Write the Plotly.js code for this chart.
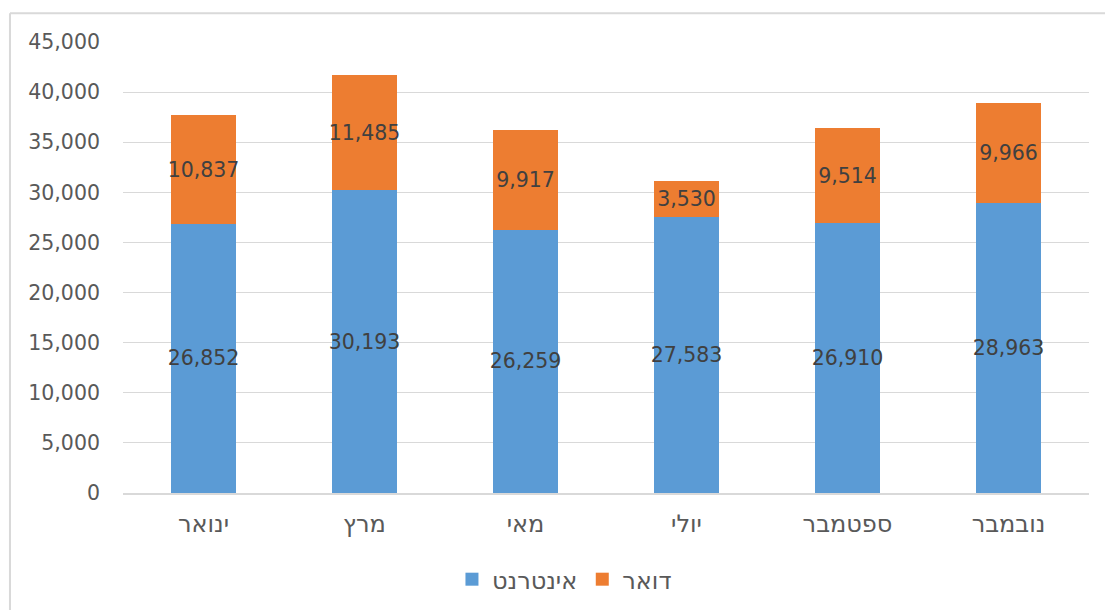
<!DOCTYPE html>
<html>
<head>
<meta charset="utf-8">
<script src="https://cdn.plot.ly/plotly-3.0.1.min.js"></script>
<style>html,body{margin:0;padding:0;background:#fff;}#chart{width:1105px;height:610px;}</style>
</head>
<body>
<div id="chart"></div>
<script>
const months = ["ינואר", "מרץ", "מאי", "יולי", "ספטמבר", "נובמבר"];
const internet = [26852, 30193, 26259, 27583, 26910, 28963];
const mail = [10837, 11485, 9917, 3530, 9514, 9966];
const seriesNames = ["אינטרנט", "דואר"];
const seriesColors = ["#5B9BD5", "#ED7D31"];
const yTicks = [0, 5000, 10000, 15000, 20000, 25000, 30000, 35000, 40000, 45000];

const FONT = "DejaVu Sans, Verdana, sans-serif";
const fmt = v => v.toLocaleString("en-US");

function barTrace(name, vals, color) {
  return {
    type: "bar", name: name, x: months, y: vals, showlegend: false,
    marker: {color: color, line: {width: 0}},
    text: vals.map(fmt), textposition: "inside", insidetextanchor: "middle",
    textangle: 0, constraintext: "none",
    textfont: {family: FONT, size: 20.5, color: "#404040"},
    hoverinfo: "skip"
  };
}
function legendTrace(name, color) {
  return {
    type: "scatter", mode: "markers", name: name, x: [null], y: [null],
    marker: {symbol: "square", size: 13, color: color}, showlegend: true, hoverinfo: "skip"
  };
}

const data = [
  barTrace(seriesNames[0], internet, seriesColors[0]),
  barTrace(seriesNames[1], mail, seriesColors[1]),
  legendTrace(seriesNames[0], seriesColors[0]),
  legendTrace(seriesNames[1], seriesColors[1])
];

const layout = {
  width: 1105, height: 610,
  margin: {l: 123, r: 16, t: 42, b: 117, autoexpand: false},
  barmode: "stack", bargap: 0.6,
  paper_bgcolor: "#fff", plot_bgcolor: "#fff",
  font: {family: FONT, size: 20, color: "#595959"},
  showlegend: true,
  legend: {orientation: "h", x: 0.457, xanchor: "center", y: -0.192, yanchor: "middle",
           font: {family: FONT, size: 24, color: "#595959"}, itemwidth: 30, traceorder: "normal"},
  xaxis: {type: "category", showgrid: false, showline: true, linecolor: "#d9d9d9", linewidth: 2,
          ticks: "", tickfont: {family: FONT, size: 24, color: "#595959"}, ticklabelstandoff: 8},
  yaxis: {range: [0, 45000], tickvals: yTicks, ticktext: yTicks.map(fmt),
          showgrid: true, gridcolor: "#d9d9d9", gridwidth: 1, zeroline: false,
          showline: false, ticks: "", ticklabelstandoff: 22,
          tickfont: {family: FONT, size: 20.5, color: "#595959"}},
  shapes: [
    {type: "line", xref: "paper", yref: "paper", x0: -0.117, x1: -0.117, y0: -0.3, y1: 1.064,
     line: {color: "#d9d9d9", width: 2}},
    {type: "line", xref: "paper", yref: "paper", x0: -0.117, x1: 1.1, y0: 1.064, y1: 1.064,
     line: {color: "#d9d9d9", width: 2}}
  ]
};

Plotly.newPlot("chart", data, layout, {displayModeBar: false, staticPlot: true});
</script>
</body>
</html>
